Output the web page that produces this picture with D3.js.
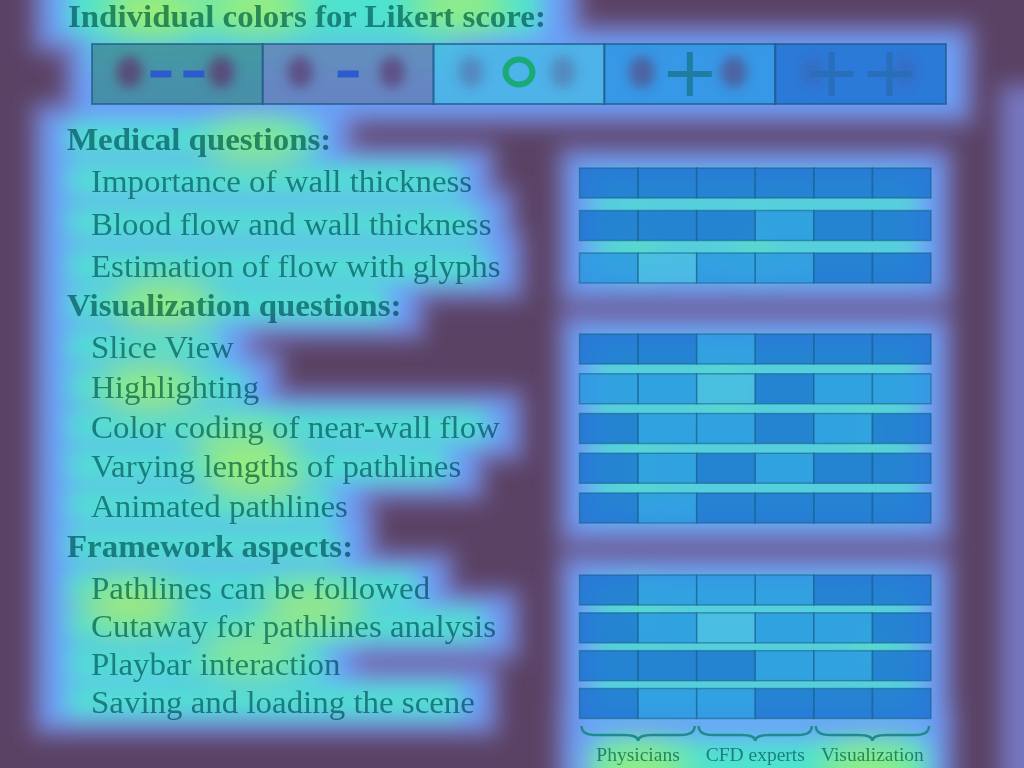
<!DOCTYPE html>
<html><head><meta charset="utf-8">
<script src="https://cdn.jsdelivr.net/npm/d3@7"></script>
<style>html,body{margin:0;padding:0;background:#5a4264;} svg{display:block}</style>
</head><body><svg id="c" width="1024" height="768"></svg>
<script>
// ---------------- DATA ----------------
const likertScores = [-2, -1, 0, 1, 2];
const likertSymbols = ["--", "-", "o", "+", "++"];
const legendTitle = "Individual colors for Likert score:";
const groups = ["Physicians", "CFD experts", "Visualization"];
const participants = ["P1", "P2", "C1", "C2", "V1", "V2"];
const participantGroup = ["Physicians", "Physicians", "CFD experts", "CFD experts", "Visualization", "Visualization"];
const sectionTitles = ["Medical questions:", "Visualization questions:", "Framework aspects:"];
const medicalQuestions = ["Importance of wall thickness", "Blood flow and wall thickness", "Estimation of flow with glyphs"];
const medicalScores = [[2,2,2,2,2,2],[2,2,2,1,2,2],[1,0,1,1,2,2]];
const visualizationQuestions = ["Slice View", "Highlighting", "Color coding of near-wall flow", "Varying lengths of pathlines", "Animated pathlines"];
const visualizationScores = [[2,2,1,2,2,2],[1,1,0,2,1,1],[2,1,1,2,1,2],[2,1,2,1,2,2],[2,1,2,2,2,2]];
const frameworkQuestions = ["Pathlines can be followed", "Cutaway for pathlines analysis", "Playbar interaction", "Saving and loading the scene"];
const frameworkScores = [[2,1,1,1,2,2],[2,1,0,1,1,2],[2,2,2,1,1,2],[2,1,1,2,2,2]];
// attention overlay (normalised gaze hot spots: fx, fy, weight)
const gazeHotSpots = [[.150,.014,1],[.250,.010,.9],[.449,.008,.8],[.250,.185,.6],[.160,.395,.8],
  [.146,.505,.8],[.235,.580,.6],[.250,.620,.8],[.128,.788,.9],[.305,.792,.8],[.244,.850,.6],[.625,1.0,.8],[.850,1.0,.8]];
const gridHotSpots = [[.623,.320,.5],[.737,.318,.5],[.709,.510,.6],[.625,.612,.5],[.625,.794,.5],[.850,.840,.5],[.850,.560,.4]];
const legendHeatDips = [.85, .75, .35, .6, .2];

// ---------------- STYLE / LAYOUT ----------------
const W = 1024, H = 768;
const likertColors = ["#3e8a94", "#647db4", "#46b9e4", "#2896e1", "#1970d0"];
const glyphColors = ["#2d5acd", "#2d5acd", "#19aa78", "#1e7da0", "#286eb9"];
const font = "'Liberation Serif', 'Times New Roman', serif";
const textBlend = "#4a9696";
const stretch = 1.045;
const legendBox = {x0: 92, x1: 946, y: 44, h: 60};
const gridX = [579.5, 931];
const sectionYRanges = [[168, 283], [334, 523], [575, 718.5]];
const rowH = 30;
const BLUE = "#6aa0f8", CYAN = "#50e2d0", RIM = "#7c84d8";

const svg = d3.select("#c");
const defs = svg.append("defs");
function blur(id, sd) {
  defs.append("filter").attr("id", id).attr("filterUnits", "userSpaceOnUse")
    .attr("x", -200).attr("y", -200).attr("width", W + 400).attr("height", H + 400)
    .append("feGaussianBlur").attr("stdDeviation", sd);
}
blur("bL", 11); blur("bM", 16); blur("bS", 6);

svg.append("rect").attr("width", W).attr("height", H).attr("fill", "#5a4264");
const heat = svg.append("g").attr("filter", "url(#bL)");
const heatRim = heat.append("g").attr("opacity", .8);
const heatBlue = heat.append("g");
const heatCyan = heat.append("g");
const spotsG = svg.append("g").attr("filter", "url(#bM)");
const chart = svg.append("g");

const fx = d3.scaleLinear().domain([0, 1]).range([0, W]);
const fy = d3.scaleLinear().domain([0, 1]).range([0, H]);
const color = d3.scaleOrdinal().domain(likertScores).range(likertColors);
const xP = d3.scaleBand().domain(participants).range(gridX).padding(0);

function addText(g, str, x, y, bold, size) {
  const t = g.append("text").attr("x", x).attr("y", y).text(str)
    .attr("font-family", font).attr("font-size", size || 31.5)
    .attr("font-weight", bold ? "bold" : "normal")
    .attr("fill", textBlend).style("mix-blend-mode", "multiply");
  const L = t.node().getComputedTextLength();
  t.attr("textLength", L * stretch).attr("lengthAdjust", "spacingAndGlyphs");
  return {x, y, end: x + L * stretch, node: t};
}
function box(g, x0, y0, x1, y1, fill, op) {
  return g.append("rect").attr("x", x0).attr("y", y0).attr("width", x1 - x0).attr("height", y1 - y0)
    .attr("fill", fill).attr("opacity", op == null ? 1 : op);
}
function blueBox(x0, y0, x1, y1, fill) {
  box(heatRim, x0 - 12, y0 - 12, x1 + 12, y1 + 12, RIM);
  box(heatBlue, x0, y0, x1, y1, fill || BLUE);
}
function heatForLine(l) {
  blueBox(44, l.y - 36, l.end + 12, l.y + 12);
  box(heatCyan, 68, l.y - 27, l.end - 14, l.y + 3, CYAN);
}

// ---- title + legend ----
const tl = addText(chart, legendTitle, 68, 27, true);
blueBox(44, -40, tl.end + 24, 42);
box(heatCyan, 68, -30, tl.end - 6, 34, CYAN);
blueBox(legendBox.x0 - 16, legendBox.y - 8, legendBox.x1 + 16, legendBox.y + legendBox.h + 10);
box(heatCyan, legendBox.x0, legendBox.y - 10, legendBox.x0 + 360, legendBox.y + 26, CYAN, .6);

const xL = d3.scaleBand().domain(likertScores).range([legendBox.x0, legendBox.x1]);
const legG = chart.append("g");
legG.selectAll("rect.cell").data(likertScores).join("rect").attr("class", "cell")
  .attr("x", d => xL(d)).attr("y", legendBox.y).attr("width", xL.bandwidth()).attr("height", legendBox.h)
  .attr("fill", d => color(d)).attr("fill-opacity", .78)
  .attr("stroke", "#1f5a8a").attr("stroke-opacity", .7).attr("stroke-width", 2);
const dipG = svg.append("g").attr("filter", "url(#bS)");
likertScores.forEach((d, i) => {
  const cx = xL(d) + xL.bandwidth() / 2;
  [-48, 44].forEach(o => dipG.append("ellipse").attr("cx", cx + o).attr("cy", legendBox.y + legendBox.h / 2 - 2)
    .attr("rx", 13).attr("ry", 16).attr("fill", "#5c3e72").attr("opacity", legendHeatDips[i]));
});
const glyphG = svg.append("g");
likertScores.forEach((d, i) => {
  const cx = xL(d) + xL.bandwidth() / 2, cy = legendBox.y + legendBox.h / 2;
  const c = glyphColors[i], s = likertSymbols[i];
  const dash = (x) => glyphG.append("rect").attr("x", x - 10.5).attr("y", cy - 3.5).attr("width", 21).attr("height", 7).attr("fill", c);
  const plus = (x) => {
    glyphG.append("rect").attr("x", x - 22).attr("y", cy - 3).attr("width", 44).attr("height", 6).attr("fill", c);
    glyphG.append("rect").attr("x", x - 3).attr("y", cy - 22).attr("width", 6).attr("height", 44).attr("fill", c);
  };
  if (s === "--") { dash(cx - 16.5); dash(cx + 16.5); }
  else if (s === "-") dash(cx);
  else if (s === "o") glyphG.append("ellipse").attr("cx", cx).attr("cy", cy - 2).attr("rx", 13.5).attr("ry", 12.5)
    .attr("fill", "none").attr("stroke", c).attr("stroke-width", 6);
  else if (s === "+") plus(cx);
  else { plus(cx - 29); plus(cx + 29); }
});

// ---- sections ----
const sections = [
  {title: sectionTitles[0], questions: medicalQuestions, scores: medicalScores},
  {title: sectionTitles[1], questions: visualizationQuestions, scores: visualizationScores},
  {title: sectionTitles[2], questions: frameworkQuestions, scores: frameworkScores}
];
sections.forEach((sec, si) => {
  const R = sectionYRanges[si], n = sec.questions.length, span = R[1] - R[0];
  const yB = d3.scaleBand().domain(sec.questions).range(R)
    .paddingInner((span - rowH * n) / (span - rowH)).paddingOuter(0);
  const hl = addText(chart, sec.title, 67, R[0] - 18, true);
  heatForLine(hl);
  sec.questions.forEach(q => {
    const l = addText(chart, q, 91, yB(q) + yB.bandwidth() / 2 + 9, false);
    heatForLine(l);
  });
  blueBox(gridX[0] - 10, R[0] - 10, gridX[1] + 10, R[1] + 10);
  box(heatCyan, gridX[0] + 14, R[0] + 8, gridX[1] - 14, R[1] - 8, CYAN, .7);
  const cells = [];
  sec.questions.forEach((q, qi) => participants.forEach((p, pi) => cells.push({q, p, v: sec.scores[qi][pi]})));
  chart.append("g").selectAll("rect").data(cells).join("rect")
    .attr("x", d => xP(d.p)).attr("y", d => yB(d.q)).attr("width", xP.bandwidth()).attr("height", yB.bandwidth())
    .attr("fill", d => color(d.v)).attr("fill-opacity", .8)
    .attr("stroke", "#155f85").attr("stroke-opacity", .55).attr("stroke-width", 1.5);
});

// ---- group braces + labels ----
const gB = chart.append("g");
groups.forEach(g => {
  const ps = participants.filter((p, i) => participantGroup[i] === g);
  const xa = xP(ps[0]) + 2, xb = xP(ps[ps.length - 1]) + xP.bandwidth() - 2, mid = (xa + xb) / 2;
  const y0 = 726, h = 15, q = 14, ym = y0 + h * .6;
  const p = `M${xa},${y0} Q${xa},${ym} ${xa + q},${ym} L${mid - q},${ym} Q${mid},${ym} ${mid},${y0 + h}
    Q${mid},${ym} ${mid + q},${ym} L${xb - q},${ym} Q${xb},${ym} ${xb},${y0}`;
  gB.append("path").attr("d", p).attr("fill", "none").attr("stroke", "#1f8a90").attr("stroke-width", 2.5);
  gB.append("text").attr("x", mid).attr("y", 761).attr("text-anchor", "middle").text(g)
    .attr("font-family", font).attr("font-size", 19.5).attr("fill", textBlend).style("mix-blend-mode", "multiply");
});
blueBox(568, 716, 944, 800);
box(heatCyan, 595, 740, 925, 800, CYAN);
box(heatRim, 1000, 85, 1080, 805, RIM);

// hot spots
spotsG.selectAll("ellipse.g").data(gazeHotSpots).join("ellipse").attr("class", "g")
  .attr("cx", d => fx(d[0])).attr("cy", d => fy(d[1])).attr("rx", 50).attr("ry", 24)
  .attr("fill", d => d3.interpolateRgb("#62e6c4", "#c0f250")(d[2])).attr("opacity", .75);
spotsG.selectAll("ellipse.s").data(gridHotSpots).join("ellipse").attr("class", "s")
  .attr("cx", d => fx(d[0])).attr("cy", d => fy(d[1])).attr("rx", 14).attr("ry", 26)
  .attr("fill", "#5cf0b0").attr("opacity", d => d[2]);
</script></body></html>
